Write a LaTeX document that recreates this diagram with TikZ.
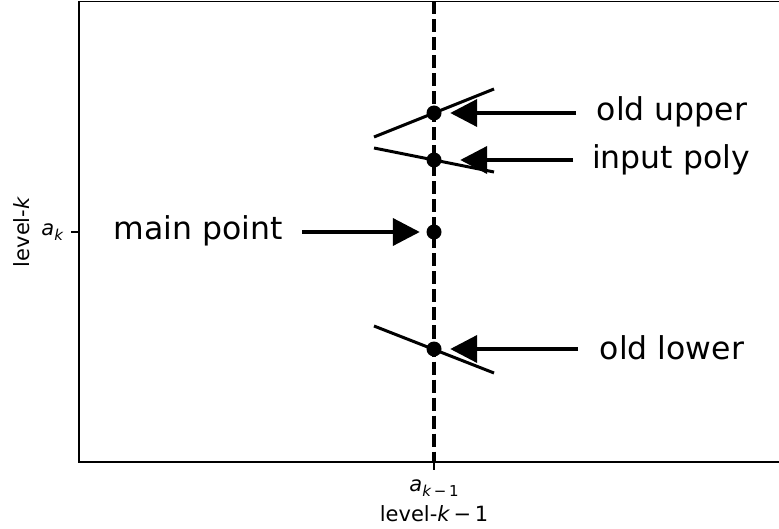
\documentclass[tikz,border=0pt]{standalone}
\usepackage{fontspec}
\setmainfont{DejaVu Sans}
\usetikzlibrary{arrows.meta}

\newcommand{\lowsub}[1]{\raisebox{-0.22em}{\fontsize{15}{15}\selectfont #1}}

\tikzset{
	dot/.style={circle, fill, inner sep=0pt, minimum size=15pt},
	callout/.style={line width=4pt, -{Triangle[length=27pt, width=27pt]}},
	seg/.style={line width=3pt},
	bigtext/.style={font=\fontsize{31.5}{37}\selectfont},
	ticktext/.style={font=\fontsize{21}{25}\selectfont},
}

\begin{document}
\begin{tikzpicture}[x=1pt, y=-1pt]
		\useasboundingbox (0,0) rectangle (779,529);
		
		% frame, open on the right
		\draw [line width=1.8pt] (779,1.5) -- (79,1.5) -- (79,462) -- (779,462);
		\draw [line width=1.8pt] (79,232) -- (71,232);
		\draw [line width=1.8pt] (434,462) -- (434,470);
		
		\node (akticks) [ticktext, anchor=east] at (67,232) {\textit{a}\lowsub{\textit{k}}};
		\node (ylabel) [ticktext, rotate=90] at (22,232) {level-\textit{k}};
		\node (akmticks) [ticktext] at (434,488) {\textit{a}\lowsub{\textit{k}\,−\,1}};
		\node (xlabel) [ticktext] at (434,514) {level-\textit{k}\,−\,1};
		
		\draw [line width=3.3pt, dash pattern=on 13pt off 5pt] (434,1.5) -- (434,462);
		
		% slanted pieces through the points
		\draw [seg] (374,137) -- (494,89);
		\draw [seg] (374,148) -- (494,172);
		\draw [seg] (374,326) -- (494,373);
		
		\node (upper) [dot] at (434,113) {};
		\node (poly) [dot] at (434,160) {};
		\node (main) [dot] at (434,232) {};
		\node (lower) [dot] at (434,349) {};
		
		\node (uppertext) [bigtext] at (672,112) {old upper};
		\node (polytext) [bigtext] at (671,160) {input poly};
		\node (maintext) [bigtext] at (198,231) {main point};
		\node (lowertext) [bigtext] at (672,348) {old lower};
		
		\coordinate (uppertail) at (576,113);
		\coordinate (polytail) at (573,160);
		\coordinate (maintail) at (302,232);
		\coordinate (lowertail) at (578,349);
		
		\draw [callout, shorten >=8.5pt] (uppertail) -- (upper);
		\draw [callout, shorten >=18.5pt] (polytail) -- (poly);
		\draw [callout, shorten >=6.5pt] (maintail) -- (main);
		\draw [callout, shorten >=8.5pt] (lowertail) -- (lower);
		
\end{tikzpicture}
\end{document}
